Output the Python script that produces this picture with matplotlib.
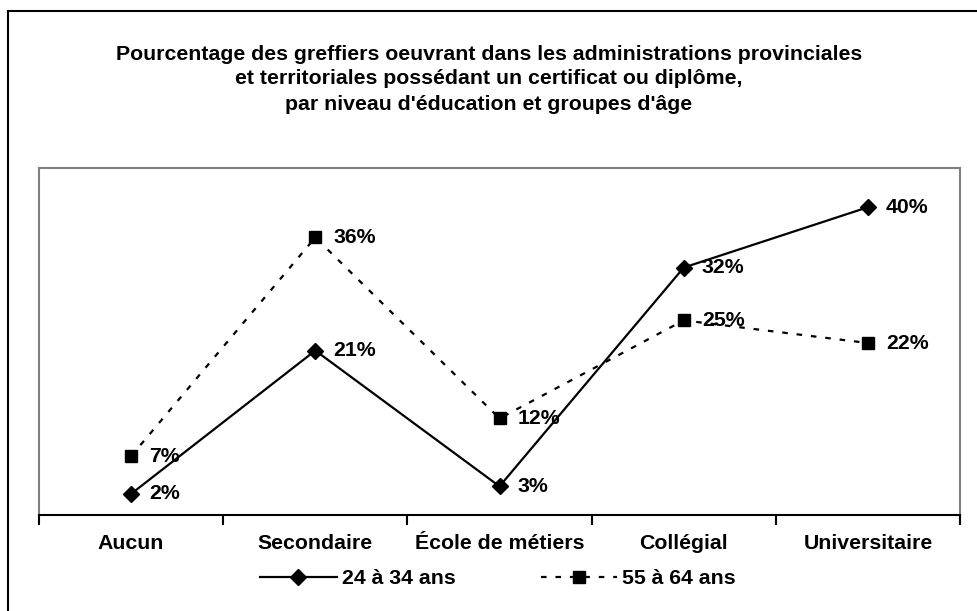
import matplotlib
matplotlib.use("Agg")
import matplotlib.pyplot as plt
from matplotlib.patches import Rectangle

plt.rcParams['font.family'] = ['Liberation Sans', 'DejaVu Sans']

categories = ["Aucun", "Secondaire", "École de métiers", "Collégial", "Universitaire"]
series_24_34 = [2, 21, 3, 32, 40]
series_55_64 = [7, 36, 12, 25, 22]
label_24_34 = "24 à 34 ans"
label_55_64 = "55 à 64 ans"
title = ("Pourcentage des greffiers oeuvrant dans les administrations provinciales\n"
         "et territoriales possédant un certificat ou diplôme,\n"
         "par niveau d'éducation et groupes d'âge")

FS = 15.3
W, H = 977, 611
fig = plt.figure(figsize=(W / 100, H / 100), dpi=100)

# outer border (only left/top visible in reference)
fig.patches.append(Rectangle((8 / W, -0.1), 1.2, 1 - 11 / H + 0.1, transform=fig.transFigure,
                             fill=False, edgecolor='black', linewidth=1.5))

ax = fig.add_axes([39 / W, 1 - 515 / H, (960 - 39) / W, (515 - 168) / H])
x = list(range(len(categories)))

ax.plot(x, series_24_34, color='black', linewidth=1.6, marker='D', markersize=8,
        label=label_24_34)
ax.plot(x, series_55_64, color='black', linewidth=1.6, linestyle=(0, (2.5, 4)), marker='s',
        markersize=8.5, label=label_55_64)

for xi, v in zip(x, series_24_34):
    ax.annotate(f"{v}%", (xi, v), xytext=(13, 0), textcoords='offset points',
                va='center', ha='left', fontsize=FS, fontweight='bold')
for xi, v in zip(x, series_55_64):
    ax.annotate(f"{v}%", (xi, v), xytext=(13, 0), textcoords='offset points',
                va='center', ha='left', fontsize=FS, fontweight='bold')

ax.set_xlim(-0.5, len(categories) - 0.5)
ax.set_ylim(-0.8, 45.2)
ax.set_yticks([])
ax.set_xticks([i - 0.5 for i in range(len(categories) + 1)])
ax.set_xticklabels([])
ax.set_xticks(x, minor=True)
ax.set_xticklabels(categories, minor=True, fontsize=FS, fontweight='bold')
ax.tick_params(axis='x', which='major', direction='out', length=7, width=1.5, color='black')
ax.tick_params(axis='x', which='minor', length=0, pad=14)

for side in ['left', 'top', 'right']:
    ax.spines[side].set_color('#808080')
    ax.spines[side].set_linewidth(1.5)
ax.spines['bottom'].set_color('black')
ax.spines['bottom'].set_linewidth(1.5)

fig.text(489 / W, 1 - 79 / H, title, ha='center', va='center', fontsize=FS,
         fontweight='bold', linespacing=1.4)

fig.legend(handles=ax.get_lines(), loc='center', bbox_to_anchor=(498 / W, 1 - 579 / H),
           ncol=2, frameon=False, prop={'size': FS, 'weight': 'bold'},
           handlelength=3.6, columnspacing=4.0, handletextpad=0.25)

fig.savefig("out.png", dpi=100)
